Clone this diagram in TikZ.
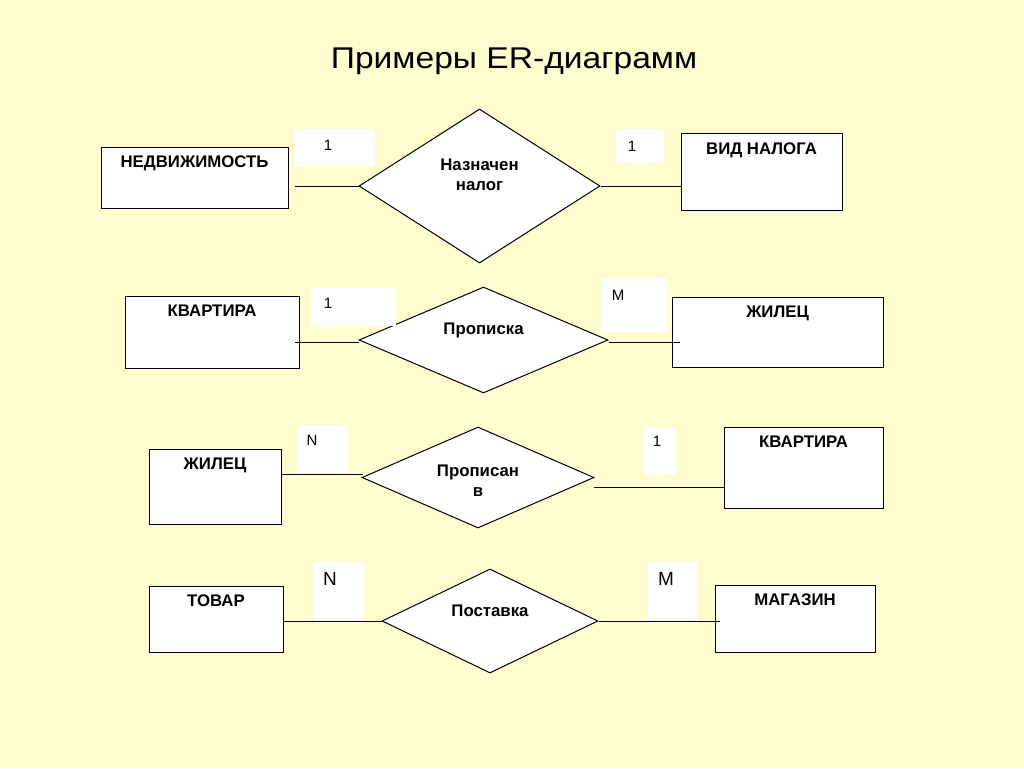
\documentclass[tikz,border=0pt]{standalone}
\usepackage{fontspec}
\setmainfont{Liberation Sans}
\usepackage{xcolor}
\usepackage{graphicx}
\usepackage{tikz}
\usetikzlibrary{shapes.geometric}
\definecolor{slide}{RGB}{255,253,208}

\begin{document}
\begin{tikzpicture}[x=1pt, y=-1pt,
  entity/.style={rectangle, draw, line width=1pt, fill=white, inner sep=0pt},
  relation/.style={diamond, draw, line width=1pt, fill=white, inner sep=0pt},
  card/.style={rectangle, fill=white, inner sep=0pt},
  link/.style={line width=1pt},
  every label/.style={inner sep=0pt, font=\fontsize{16.8}{20}\selectfont\bfseries}]
% Background
\fill[slide] (0,0) rectangle (1024,768);
\node[anchor=base, inner sep=0pt, font=\fontsize{30}{36}\selectfont] (title) at (514,68) {\scalebox{1.12}[1]{Примеры ER-диаграмм}};

% Entities
\node[entity, minimum width=187pt, minimum height=61pt, label={[anchor=north, yshift=-9pt]north:НЕДВИЖИМОСТЬ}] (ned) at (194.5,177.5) {};
\node[entity, minimum width=161pt, minimum height=77pt, label={[anchor=north, yshift=-10.5pt]north:ВИД НАЛОГА}] (vid) at (761.5,171.5) {};
\node[entity, minimum width=174pt, minimum height=72pt, label={[anchor=north, yshift=-9pt]north:КВАРТИРА}] (kv1) at (212,332) {};
\node[entity, minimum width=211pt, minimum height=70pt, label={[anchor=north, yshift=-9.5pt]north:ЖИЛЕЦ}] (zh1) at (777.5,332) {};
\node[entity, minimum width=132pt, minimum height=75pt, label={[anchor=north, yshift=-9.5pt]north:ЖИЛЕЦ}] (zh2) at (215,486.5) {};
\node[entity, minimum width=159pt, minimum height=81pt, label={[anchor=north, yshift=-9pt]north:КВАРТИРА}] (kv2) at (803.5,467.5) {};
\node[entity, minimum width=134pt, minimum height=66pt, label={[anchor=north, yshift=-9pt]north:ТОВАР}] (tov) at (216,619) {};
\node[entity, minimum width=160pt, minimum height=67pt, label={[anchor=north, yshift=-9.5pt]north:МАГАЗИН}] (mag) at (795,618.5) {};

%Relations
\node[relation, minimum width=241pt, minimum height=154pt, label={[yshift=11pt, align=center]center:Назначен\\налог}] (d1) at (479.5,186) {};
\node[relation, minimum width=249pt, minimum height=106pt, label={[yshift=10pt]center:Прописка}] (d2) at (483.5,340) {};
\node[relation, minimum width=232pt, minimum height=101pt, label={[yshift=-3pt, align=center]center:Прописан\\в}] (d3) at (478,477.5) {};
\node[relation, minimum width=216pt, minimum height=104pt, label={[yshift=10pt]center:Поставка}] (d4) at (490,621) {};

%Cardinalities
\node[card, minimum width=81pt, minimum height=37pt, label={[xshift=-6.5pt, yshift=2.5pt, font=\fontsize{15}{18}\selectfont]center:1}] (c1) at (334.5,147.5) {};
\node[card, minimum width=48pt, minimum height=34pt, label={[xshift=-8pt, font=\fontsize{15}{18}\selectfont]center:1}] (c2) at (640,146) {};
\node[card, minimum width=85pt, minimum height=38pt, label={[xshift=-25.5pt, yshift=4pt, font=\fontsize{15}{18}\selectfont]center:1}] (c3) at (353.5,307) {};
\node[card, minimum width=66pt, minimum height=54pt, label={[xshift=-16pt, yshift=10pt, font=\fontsize{15}{18}\selectfont]center:M}] (c4) at (634,305) {};
\node[card, minimum width=51pt, minimum height=48pt, label={[xshift=-10.5pt, yshift=9pt, font=\fontsize{15}{18}\selectfont]center:N}] (c5) at (322.5,449) {};
\node[card, minimum width=33pt, minimum height=47pt, label={[xshift=-2.5pt, yshift=10.5pt, font=\fontsize{15}{18}\selectfont]center:1}] (c6) at (659.5,451.5) {};
\node[card, minimum width=50pt, minimum height=61pt, label={[xshift=-9pt, yshift=13.5pt, font=\fontsize{19}{22}\selectfont]center:N}] (c7) at (339,592.5) {};
\node[card, minimum width=50pt, minimum height=61pt, label={[xshift=-7pt, yshift=13.5pt, font=\fontsize{19}{22}\selectfont]center:M}] (c8) at (673,592.5) {};

%Lines
\coordinate (a1) at (295,186);
\coordinate (a2) at (295,342);
\coordinate (b2) at (680,342);
\coordinate (a3) at (363,474);
\coordinate (b3) at (594,487);
\coordinate (b4) at (720,621);
\draw[link] (a1) -- (d1.west);
\draw[link] (d1.east) -- (vid.west |- d1.east);
\draw[link] (a2) -- (d2.west |- a2);
\draw[link] (d2.east |- b2) -- (b2);
\draw[link] (zh2.east |- a3) -- (a3);
\draw[link] (b3) -- (kv2.west |- b3);
\draw[link] (tov.east |- d4.west) -- (d4.west);
\draw[link] (d4.east) -- (b4);
\end{tikzpicture}
\end{document}
